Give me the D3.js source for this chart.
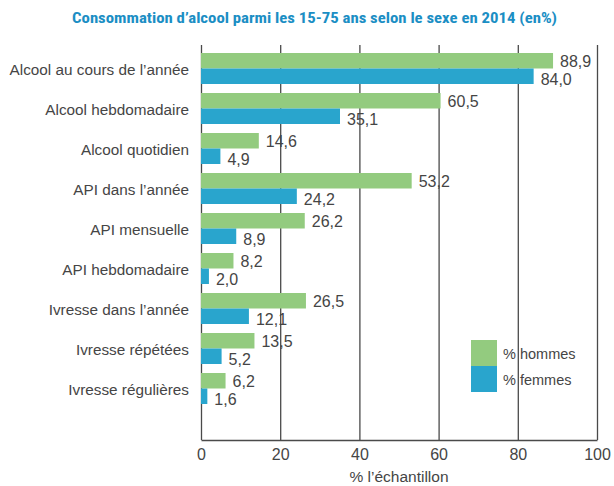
<!DOCTYPE html>
<html>
<head>
<meta charset="utf-8">
<script src="https://d3js.org/d3.v7.min.js"></script>
<style>
  body { margin: 0; background: #fff; }
  svg text { font-family: "Liberation Sans", Arial, sans-serif; fill: #454545; }
  .title { font-family: "Liberation Sans Narrow", "Roboto Condensed", "Liberation Sans", Arial, sans-serif; font-weight: bold; fill: #1b8ec4; }
</style>
</head>
<body>
<svg></svg>
<script>
// data
var categories = [
  "Alcool au cours de l\u2019ann\u00e9e",
  "Alcool hebdomadaire",
  "Alcool quotidien",
  "API dans l\u2019ann\u00e9e",
  "API mensuelle",
  "API hebdomadaire",
  "Ivresse dans l\u2019ann\u00e9e",
  "Ivresse r\u00e9p\u00e9t\u00e9es",
  "Ivresse r\u00e9guli\u00e8res"
];
var hommes = [88.9, 60.5, 14.6, 53.2, 26.2, 8.2, 26.5, 13.5, 6.2];
var femmes = [84.0, 35.1, 4.9, 24.2, 8.9, 2.0, 12.1, 5.2, 1.6];
var xTicks = [0, 20, 40, 60, 80, 100];
var seriesNames = ["% hommes", "% femmes"];
var colors = ["#93cb7f", "#29a5cd"];

var width = 614, height = 486;
var svg = d3.select("svg").attr("width", width).attr("height", height);

var fr = d3.formatLocale({decimal: ",", thousands: " ", grouping: [3], currency: ["", "€"]});
var fmt = fr.format(".1f");

var x = d3.scaleLinear().domain([0, 100]).range([201, 597]);
var y = d3.scaleBand().domain(categories).range([48.5, 408.5])
  .paddingInner(0.225).paddingOuter(0.1125);
var half = y.bandwidth() / 2;

// title
svg.append("text").attr("class", "title")
  .attr("x", 72).attr("y", 23)
  .attr("font-size", 15)
  .attr("textLength", 485).attr("lengthAdjust", "spacingAndGlyphs")
  .text("Consommation d\u2019alcool parmi les 15-75 ans selon le sexe en 2014 (en%)");

// axis with gridlines
var axis = d3.axisBottom(x).tickValues(xTicks).tickSize(-395).tickSizeOuter(0).tickPadding(8.5);
var gx = svg.append("g").attr("transform", "translate(0,440)").call(axis);
gx.selectAll(".tick line").attr("stroke", "#4a4a4a").attr("stroke-width", 1.3);
gx.select(".domain").attr("stroke", "#4a4a4a").attr("stroke-width", 1.3);
gx.selectAll(".tick text").attr("font-size", 16).attr("fill", "#2e2e2e")
  .style("font-family", "'Liberation Sans', Arial, sans-serif");

svg.append("text")
  .attr("x", (x(0) + x(100)) / 2).attr("y", 482)
  .attr("text-anchor", "middle").attr("font-size", 15.5)
  .text("% l\u2019\u00e9chantillon");

// category labels
svg.selectAll(".cat").data(categories).enter().append("text")
  .attr("class", "cat")
  .attr("x", 189)
  .attr("y", function(d) { return y(d) + half + 6.5; })
  .attr("text-anchor", "end").attr("font-size", 15.3)
  .text(function(d) { return d; });

// bars
var series = [hommes, femmes];
series.forEach(function(vals, s) {
  svg.selectAll(".bar" + s).data(vals).enter().append("rect")
    .attr("class", "bar" + s)
    .attr("x", x(0))
    .attr("y", function(d, i) { return y(categories[i]) + s * half; })
    .attr("width", function(d) { return x(d) - x(0); })
    .attr("height", half)
    .attr("fill", colors[s]);

  svg.selectAll(".val" + s).data(vals).enter().append("text")
    .attr("class", "val" + s)
    .attr("x", function(d) { return x(d) + 7; })
    .attr("y", function(d, i) { return y(categories[i]) + (s + 1) * half + (s === 0 ? -1.5 : 0.5); })
    .attr("font-size", 16)
    .text(function(d) { return fmt(d); });
});

// legend
var legend = svg.append("g");
seriesNames.forEach(function(name, s) {
  legend.append("rect")
    .attr("x", 471).attr("y", 340 + s * 26)
    .attr("width", 26).attr("height", 26)
    .attr("fill", colors[s]);
  legend.append("text")
    .attr("x", 503).attr("y", 359 + s * 26)
    .attr("font-size", 14.5)
    .text(name);
});
</script>
</body>
</html>
